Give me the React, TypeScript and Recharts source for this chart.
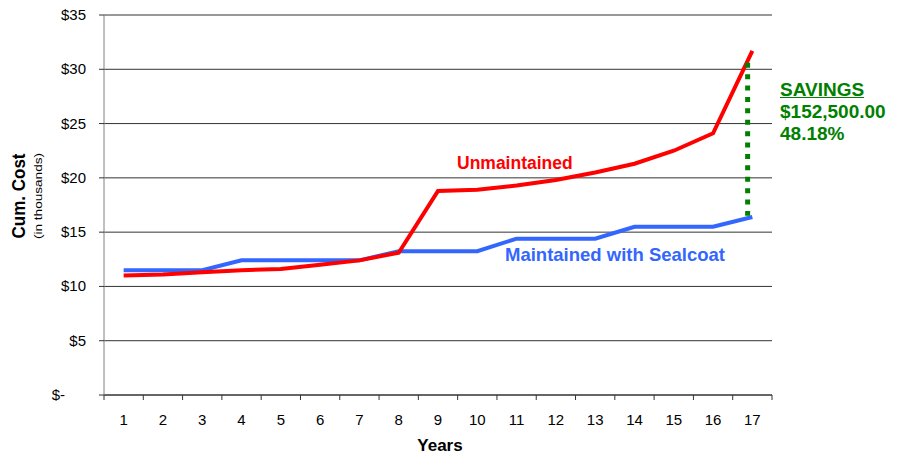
import React from "react";
import {
  ComposedChart,
  Line,
  XAxis,
  YAxis,
  CartesianGrid,
  ReferenceLine,
} from "recharts";

const years = [1, 2, 3, 4, 5, 6, 7, 8, 9, 10, 11, 12, 13, 14, 15, 16, 17];
const unmaintained = [11.0, 11.1, 11.3, 11.5, 11.6, 12.0, 12.4, 13.1, 18.8, 18.9, 19.3, 19.8, 20.5, 21.3, 22.5, 24.1, 31.7];
const maintained = [11.5, 11.5, 11.5, 12.4, 12.4, 12.4, 12.4, 13.25, 13.25, 13.25, 14.4, 14.4, 14.4, 15.5, 15.5, 15.5, 16.4];
const yTicks = [0, 5, 10, 15, 20, 25, 30, 35];
const savingsTop = 30.6;
const savingsBottom = 16.5;
const savingsYear = 16.88;
const savingsLines = ["SAVINGS", "$152,500.00", "48.18%"];
const seriesNames = ["Unmaintained", "Maintained with Sealcoat"];

const data = years.map((y, i) => ({
  year: y,
  unmaintained: unmaintained[i],
  maintained: maintained[i],
}));

const FONT = "'Liberation Sans', Arial, sans-serif";
const BAND = 668 / 17;

function XTick(props: any) {
  const { x, y, payload, index } = props;
  return (
    <g>
      <line x1={x - BAND / 2} x2={x - BAND / 2} y1={y} y2={y + 5} stroke="#333" />
      {index === years.length - 1 && (
        <line x1={x + BAND / 2} x2={x + BAND / 2} y1={y} y2={y + 5} stroke="#333" />
      )}
      <text x={x} y={y + 30} textAnchor="middle" fontSize={15} fontFamily={FONT} fill="#000">
        {payload.value}
      </text>
    </g>
  );
}

function YTick(props: any) {
  const { x, y, payload } = props;
  const v = payload.value;
  const label = v === 0 ? "$-" : `$${v}`;
  return (
    <text
      x={v === 0 ? x - 21 : x}
      y={y + 5}
      textAnchor="end"
      fontSize={15}
      fontFamily={FONT}
      fill="#000"
    >
      {label}
    </text>
  );
}

export default function App() {
  return (
    <div style={{ position: "absolute", left: 0, top: 0, width: 899, height: 455, background: "#fff", fontFamily: FONT }}>
      <ComposedChart
        width={899}
        height={455}
        data={data}
        margin={{ top: 15, right: 127, bottom: 30, left: 0 }}
      >
        <CartesianGrid vertical={false} stroke="#333" />
        <XAxis
          dataKey="year"
          type="number"
          domain={[0.5, 17.5]}
          ticks={years}
          interval={0}
          height={30}
          tickLine={false}
          tickSize={0}
          tickMargin={0}
          axisLine={{ stroke: "#333" }}
          tick={<XTick />}
        />
        <YAxis
          width={104}
          domain={[0, 35]}
          ticks={yTicks}
          interval={0}
          tickSize={5}
          tickMargin={13}
          axisLine={{ stroke: "#808080" }}
          tickLine={{ stroke: "#333" }}
          tick={<YTick />}
        />
        <Line
          dataKey="maintained"
          stroke="#3366FF"
          strokeWidth={4}
          dot={false}
          isAnimationActive={false}
        />
        <Line
          dataKey="unmaintained"
          stroke="#FF0000"
          strokeWidth={4}
          dot={false}
          isAnimationActive={false}
        />
        <ReferenceLine
          segment={[
            { x: savingsYear, y: savingsTop },
            { x: savingsYear, y: savingsBottom },
          ]}
          stroke="#008000"
          strokeWidth={5}
          strokeDasharray="5 6.4"
        />
      </ComposedChart>

      <svg style={{ position: "absolute", left: 0, top: 0 }} width={60} height={455}>
        <text
          transform="translate(25 196) rotate(-90)"
          textAnchor="middle"
          fontSize={17.5}
          fontWeight="bold"
          fontFamily={FONT}
          textLength={85}
          lengthAdjust="spacingAndGlyphs"
        >
          Cum. Cost
        </text>
        <text
          transform="translate(41.5 196) rotate(-90)"
          textAnchor="middle"
          fontSize={10.5}
          fontFamily={FONT}
          textLength={86}
          lengthAdjust="spacingAndGlyphs"
        >
          (in thousands)
        </text>
      </svg>

      <div
        style={{
          position: "absolute",
          left: 390,
          width: 100,
          textAlign: "center",
          top: 437,
          fontSize: 17,
          fontWeight: "bold",
          lineHeight: "18px",
        }}
      >
        Years
      </div>

      <div
        style={{
          position: "absolute",
          left: 457,
          top: 152,
          fontSize: 17.5,
          fontWeight: "bold",
          color: "#FF0000",
          lineHeight: "22px",
          whiteSpace: "nowrap",
        }}
      >
        {seriesNames[0]}
      </div>
      <div
        style={{
          position: "absolute",
          left: 505,
          top: 244,
          fontSize: 18.5,
          fontWeight: "bold",
          color: "#3366FF",
          lineHeight: "22px",
          whiteSpace: "nowrap",
        }}
      >
        {seriesNames[1]}
      </div>

      <div
        style={{
          position: "absolute",
          left: 780,
          top: 79,
          fontSize: 19,
          fontWeight: "bold",
          color: "#008000",
          lineHeight: "22px",
          whiteSpace: "nowrap",
        }}
      >
        <div style={{ textDecoration: "underline" }}>{savingsLines[0]}</div>
        <div>{savingsLines[1]}</div>
        <div>{savingsLines[2]}</div>
      </div>
    </div>
  );
}
